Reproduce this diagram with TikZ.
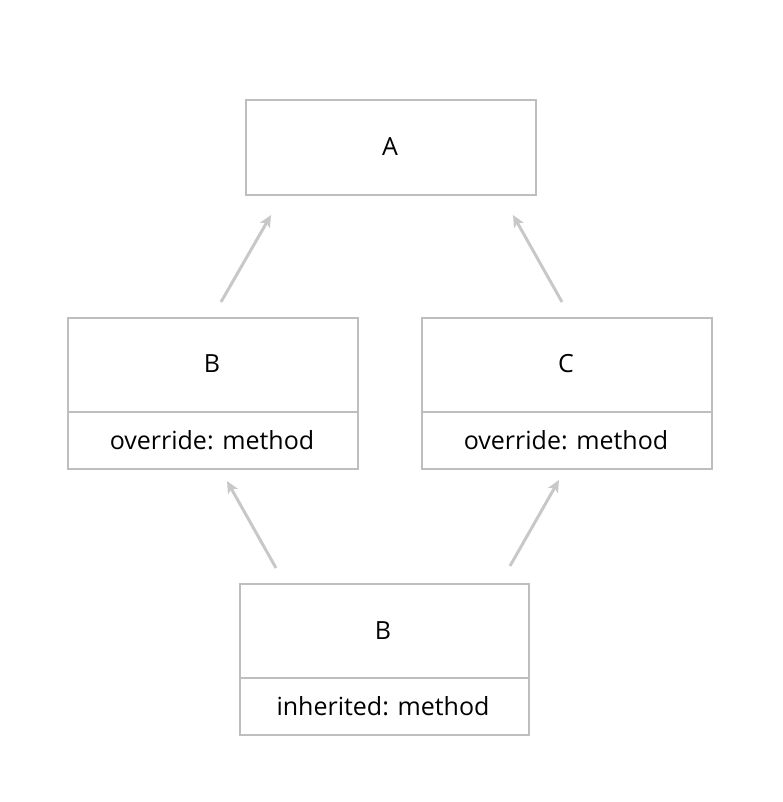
\documentclass[tikz,border=0pt]{standalone}
\usepackage{fontspec}
\setmainfont{Open Sans}
\usetikzlibrary{arrows.meta}
\definecolor{boxgray}{RGB}{190,190,190}
\definecolor{arrgray}{RGB}{200,200,200}
\begin{document}
\begin{tikzpicture}[x=1pt,y=-1pt,
  boxline/.style={draw=boxgray,line width=2pt},
  lbl/.style={font=\fontsize{25}{29}\selectfont,text=black},
  inh/.style={draw=arrgray,line width=3pt,-{Stealth[length=12pt,width=11pt,inset=3pt]}}]
\useasboundingbox (0,0) rectangle (782,802);
% A
\node[boxline,minimum width=290pt,minimum height=95pt,inner sep=0pt,anchor=north west] (A) at (245,99) {};
\node[lbl] (Alabel) at (390,147) {A};
% B
\node[boxline,minimum width=290pt,minimum height=151pt,inner sep=0pt,anchor=north west] (B) at (67,317) {};
\draw[boxline] (67,412) -- (357,412);
\node[lbl] (Blabel) at (212,364) {B};
\node[lbl] (Bm) at (212,440) {override: method};
% C
\node[boxline,minimum width=290pt,minimum height=151pt,inner sep=0pt,anchor=north west] (C) at (421,317) {};
\draw[boxline] (421,412) -- (711,412);
\node[lbl] (Clabel) at (566,364) {C};
\node[lbl] (Cm) at (566,440) {override: method};
% D
\node[boxline,minimum width=289pt,minimum height=151pt,inner sep=0pt,anchor=north west] (D) at (239,583) {};
\draw[boxline] (239,678) -- (528,678);
\node[lbl] (Dlabel) at (383,631) {B};
\node[lbl] (Dm) at (383,706) {inherited: method};
% arrows
\coordinate (b1) at (221,302); \coordinate (a1) at (271,215);
\coordinate (c1) at (562,302); \coordinate (a2) at (513,215);
\coordinate (d1) at (276,568); \coordinate (b2) at (227,481);
\coordinate (d2) at (510,566); \coordinate (c2) at (559,480);
\draw[inh] (b1) -- (a1);
\draw[inh] (c1) -- (a2);
\draw[inh] (d1) -- (b2);
\draw[inh] (d2) -- (c2);
\end{tikzpicture}
\end{document}
